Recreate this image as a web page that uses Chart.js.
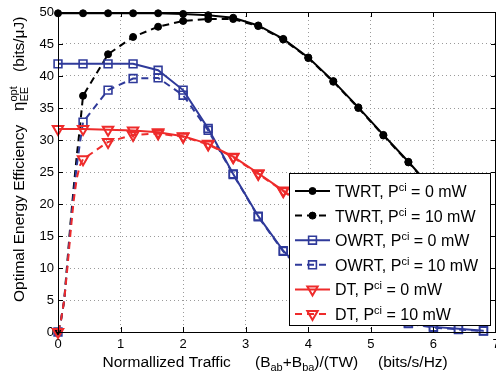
<!DOCTYPE html>
<html><head><meta charset="utf-8">
<script src="https://cdn.jsdelivr.net/npm/chart.js@4/dist/chart.umd.min.js"></script>
<style>html,body{margin:0;padding:0;background:#fff}canvas{display:block}</style>
</head><body>
<canvas id="c" width="496" height="376"></canvas>
<script>
// ---- data ----
const xSolid = [0,0.4,0.8,1.2,1.6,2.0,2.4,2.8,3.2,3.6,4.0,4.4,4.8,5.2,5.6,6.0,6.4,6.8];
const xDash  = [0,0.05,0.1,0.15,0.2,0.25,0.3,0.35,0.4,0.8,1.2,1.6,2.0,2.4,2.8,3.2,3.6,4.0,4.4,4.8,5.2,5.6,6.0,6.4,6.8];
const twrt0  = [49.8,49.8,49.8,49.8,49.8,49.7,49.5,49.1,47.9,45.8,42.9,39.2,35.1,30.8,26.6,22.2,17.6,12.8];
const twrt10 = [0,2,5,11,17,22.5,27.5,32,36.9,43.4,46.1,47.7,48.6,48.9,48.9,47.8,45.7,42.8,39.1,35.0,30.7,26.5,22.1,17.5,12.7];
const owrt0  = [41.9,41.9,41.9,41.9,40.9,37.8,31.8,24.7,18.1,12.7,8.6,5.6,3.6,2.2,1.4,0.8,0.5,0.2];
const owrt10 = [0,2,5,10.5,16.5,21.5,26,29.5,32.8,37.8,39.6,39.7,37.0,31.5,24.6,18.0,12.6,8.5,5.5,3.5,2.1,1.3,0.7,0.4,0.15];
const dt0    = [31.7,31.7,31.6,31.5,31.2,30.6,29.4,27.4,24.8,22.1,19.3,16.4,13.6,11.0,8.6,6.5,4.7,3.2];
const dt10   = [0,2,5,10,15.5,20.5,24,26,27.0,29.7,30.8,31.0,30.5,29.3,27.3,24.7,22.0,19.2,16.3,13.5,10.9,8.5,6.4,4.6,3.1];
const xTicks = [0,1,2,3,4,5,6,7];
const yTicks = [0,5,10,15,20,25,30,35,40,45,50];
const schemes = ['TWRT','TWRT','OWRT','OWRT','DT','DT'];
const powers  = ['0','10','0','10','0','10'];

const FONT = "'Liberation Sans', Arial, Helvetica, sans-serif";
const BLACK = '#000000', BLUE = '#2f3a9a', RED = '#ee2b2b';
const styles = [
  {c:BLACK, dash:false, ps:'circle', r:3.5, bw:1, bg:BLACK},
  {c:BLACK, dash:true,  ps:'circle', r:3.5, bw:1, bg:BLACK},
  {c:BLUE,  dash:false, ps:'rect', r:5.5, bw:1.6, bg:'rgba(255,255,255,0)'},
  {c:BLUE,  dash:true,  ps:'rect', r:5.5, bw:1.6, bg:'rgba(255,255,255,0)'},
  {c:RED,   dash:false, ps:'triangle', r:6, bw:2, bg:'rgba(255,255,255,0)'},
  {c:RED,   dash:true,  ps:'triangle', r:6, bw:2, bg:'rgba(255,255,255,0)'}
];
const seriesX = [xSolid, xDash, xSolid, xDash, xSolid, xDash];
const seriesY = [twrt0, twrt10, owrt0, owrt10, dt0, dt10];
const isMarker = x => Math.abs(x/0.4 - Math.round(x/0.4)) < 1e-6;

const datasets = seriesY.map((ys, i) => {
  const s = styles[i];
  return {
    label: schemes[i] + ', Pci = ' + powers[i] + ' mW',
    data: seriesX[i].map((x, k) => ({x, y: ys[k]})),
    borderColor: s.c, backgroundColor: s.bg, borderWidth: 2,
    borderDash: s.dash ? [7,5] : [],
    pointStyle: s.ps, pointRotation: s.ps === 'triangle' ? 180 : 0,
    pointRadius: ctx => (ctx.raw && isMarker(ctx.raw.x)) ? s.r : 0,
    pointBorderColor: s.c, pointBackgroundColor: s.bg, pointBorderWidth: s.bw,
    tension: 0, clip: false, order: 5 - i
  };
});

function drawRuns(ctx, x, y, runs) {
  let cx = x;
  for (const r of runs) {
    if (r.stack) {
      ctx.font = r.s + 'px ' + FONT;
      ctx.fillText(r.sup, cx, y + r.supDy);
      ctx.fillText(r.sub, cx, y + r.subDy);
      cx += Math.max(ctx.measureText(r.sup).width, ctx.measureText(r.sub).width);
    } else {
      ctx.font = r.s + 'px ' + FONT;
      ctx.fillText(r.t, cx, y + (r.dy || 0));
      cx += ctx.measureText(r.t).width;
    }
  }
  return cx;
}

const decor = {
  id: 'decor',
  afterDatasetsDraw(chart) {
    const {ctx, chartArea: a, scales} = chart;
    ctx.save();
    ctx.strokeStyle = '#000'; ctx.lineWidth = 1; ctx.setLineDash([]);
    ctx.strokeRect(Math.round(a.left)+0.5, Math.round(a.top)+0.5, Math.round(a.right-a.left)-1, Math.round(a.bottom-a.top));
    ctx.beginPath();
    const tl = 5;
    xTicks.forEach(v => {
      const px = Math.round(scales.x.getPixelForValue(v)) + 0.5;
      ctx.moveTo(px, a.bottom); ctx.lineTo(px, a.bottom - tl);
      ctx.moveTo(px, a.top); ctx.lineTo(px, a.top + tl);
    });
    yTicks.forEach(v => {
      const py = Math.round(scales.y.getPixelForValue(v)) + 0.5;
      ctx.moveTo(a.left, py); ctx.lineTo(a.left + tl, py);
      ctx.moveTo(a.right, py); ctx.lineTo(a.right - tl, py);
    });
    ctx.stroke();
    ctx.restore();
  },
  afterDraw(chart) {
    const {ctx} = chart;
    ctx.save();
    ctx.fillStyle = '#000'; ctx.textBaseline = 'alphabetic'; ctx.textAlign = 'left';
    // x axis title
    drawRuns(ctx, 102.5, 367, [{t:'Normallized Traffic', s:15.5}]);
    drawRuns(ctx, 255, 367, [
      {t:'(B', s:15.5}, {t:'ab', s:11, dy:4}, {t:'+B', s:15.5}, {t:'ba', s:11, dy:4}, {t:')/(TW)', s:15.5}
    ]);
    drawRuns(ctx, 378, 367, [{t:'(bits/s/Hz)', s:15.5}]);
    // y axis title
    ctx.save();
    ctx.translate(24, 302);
    ctx.rotate(-Math.PI/2);
    drawRuns(ctx, 0, 0, [{t:'Optimal Energy Efficiency', s:15.5}]);
    drawRuns(ctx, 191, 0, [{t:'\u03B7', s:17}, {stack:true, sup:'opt', sub:'EE', s:11, supDy:-7, subDy:4}]);
    drawRuns(ctx, 230, 0, [{t:'(bits/\u03BCJ)', s:15.5}]);
    ctx.restore();
    // legend
    const bx = 289.5, by = 173.5, bw = 201, bh = 152;
    ctx.fillStyle = '#fff'; ctx.fillRect(bx, by, bw, bh);
    ctx.strokeStyle = '#000'; ctx.lineWidth = 1; ctx.strokeRect(bx, by, bw, bh);
    styles.forEach((s, i) => {
      const cy = 191 + i * 24.6;
      ctx.save();
      ctx.strokeStyle = s.c; ctx.lineWidth = 2;
      ctx.setLineDash(s.dash ? [7,5] : []);
      ctx.beginPath(); ctx.moveTo(295, cy); ctx.lineTo(330, cy); ctx.stroke();
      ctx.setLineDash([]);
      ctx.fillStyle = s.bg; ctx.strokeStyle = s.c; ctx.lineWidth = s.bw;
      Chart.helpers.drawPoint(ctx, {pointStyle: s.ps, radius: s.r, rotation: s.ps === 'triangle' ? 180 : 0, borderWidth: s.bw}, 312.5, cy);
      ctx.restore();
      ctx.fillStyle = '#000';
      drawRuns(ctx, 335, cy + 6, [
        {t: schemes[i] + ', P', s:16}, {t:'ci', s:11, dy:-6}, {t:' = ' + powers[i] + ' mW', s:16}
      ]);
    });
    ctx.restore();
  }
};

new Chart(document.getElementById('c'), {
  type: 'line',
  data: {datasets},
  options: {
    responsive: false, animation: false, devicePixelRatio: 1,
    layout: {autoPadding: false, padding: {top: 12, right: 0, left: 0, bottom: 0}},
    plugins: {legend: {display: false}, tooltip: {enabled: false}},
    scales: {
      x: {
        type: 'linear', min: 0, max: 7,
        afterBuildTicks: s => { s.ticks = xTicks.map(v => ({value: v})); },
        afterFit: s => { s.height = 44; s.paddingLeft = 0; s.paddingRight = 0; },
        ticks: {color: '#000', font: {family: FONT, size: 13}, padding: 5, maxRotation: 0, autoSkip: false},
        grid: {color: '#9a9a9a', lineWidth: 1, drawTicks: false},
        border: {display: false, dash: [1,3]}
      },
      y: {
        type: 'linear', min: 0, max: 50,
        afterBuildTicks: s => { s.ticks = yTicks.map(v => ({value: v})); },
        afterFit: s => { s.width = 58; s.paddingTop = 0; s.paddingBottom = 0; },
        ticks: {color: '#000', font: {family: FONT, size: 13}, padding: 4, autoSkip: false},
        grid: {color: '#9a9a9a', lineWidth: 1, drawTicks: false},
        border: {display: false, dash: [1,3]}
      }
    }
  },
  plugins: [decor]
});
</script>
</body></html>
